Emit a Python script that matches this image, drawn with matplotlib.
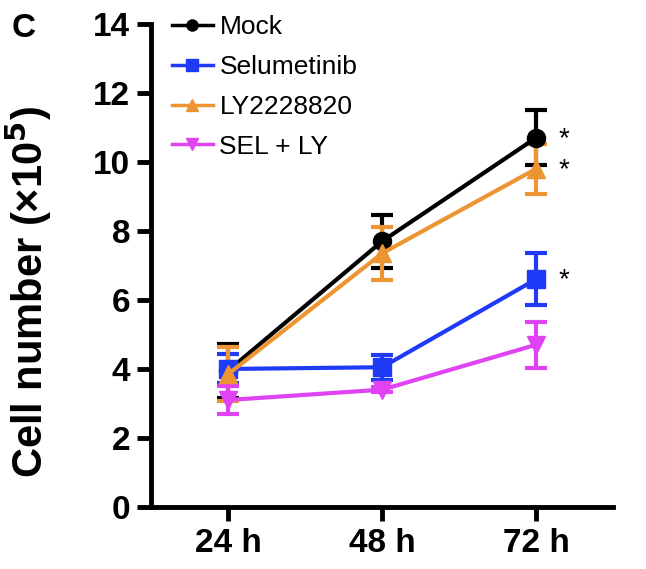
import matplotlib
matplotlib.use("Agg")
import matplotlib.pyplot as plt
from matplotlib.lines import Line2D

plt.rcParams["font.family"] = ["Liberation Sans", "DejaVu Sans"]

# data (cells x 10^5)
timepoints = ["24 h", "48 h", "72 h"]
groups = ["Mock", "Selumetinib", "LY2228820", "SEL + LY"]
colors = ["#000000", "#1f3bf7", "#ec9532", "#e044f2"]
markers = ["o", "s", "^", "v"]
mock_mean = [3.95, 7.7, 10.7]
mock_err = [0.78, 0.76, 0.8]
sel_mean = [4.0, 4.05, 6.6]
sel_err = [0.42, 0.36, 0.75]
ly_mean = [3.85, 7.35, 9.8]
ly_err = [0.78, 0.76, 0.72]
combo_mean = [3.1, 3.4, 4.7]
combo_err = [0.4, 0.08, 0.67]
means = [mock_mean, sel_mean, ly_mean, combo_mean]
errs = [mock_err, sel_err, ly_err, combo_err]
star_groups = ["Mock", "LY2228820", "Selumetinib"]

fig = plt.figure(figsize=(6.46, 5.69), dpi=100)
ax = fig.add_axes([0.234, 0.109, 0.715, 0.849])

x = list(range(1, len(timepoints) + 1))
for name, m, e, c, mk in zip(groups, means, errs, colors, markers):
    ax.errorbar(x, m, yerr=e, color=c, marker=mk, markersize=13,
                linewidth=3, elinewidth=3, capsize=8, capthick=3,
                clip_on=False)

# significance stars at 72 h
for name in star_groups:
    i = groups.index(name)
    ax.annotate("*", xy=(x[-1], means[i][-1]), xytext=(16, -1),
                textcoords="offset points", fontsize=20, va="center")

ax.set_xlim(0.5, 3.5)
ax.set_ylim(0, 14)
ax.set_yticks(range(0, 15, 2))
ax.set_xticks(x)
ax.set_xticklabels(timepoints)
ax.tick_params(axis="both", width=3.5, length=10, labelsize=24, pad=5)
for lab in ax.get_xticklabels() + ax.get_yticklabels():
    lab.set_fontweight("bold")
for side in ("top", "right"):
    ax.spines[side].set_visible(False)
for side in ("left", "bottom"):
    ax.spines[side].set_linewidth(3.5)

fig.text(29 / 646, 1 - 292 / 569, "Cell number (×10$^\\mathbf{5}$)",
         fontsize=30, fontweight="bold", rotation=90,
         ha="center", va="center")

handles = [Line2D([], [], color=c, marker=mk, markersize=8, linewidth=2.5)
           for c, mk in zip(colors, markers)]
ax.legend(handles, groups, loc="upper left", bbox_to_anchor=(0.045, 1.018),
          frameon=False, fontsize=19, handlelength=1.55, labelspacing=0.6,
          handletextpad=0.25, borderaxespad=0, borderpad=0)

fig.text(0.018, 0.977, "C", fontsize=24, fontweight="bold", va="top")

fig.savefig("out.png", dpi=100)
